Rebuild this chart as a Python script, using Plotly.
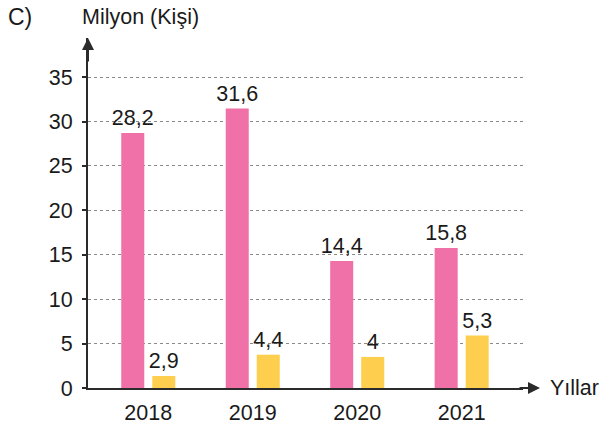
import plotly.graph_objects as go

years = ["2018", "2019", "2020", "2021"]
pink_values = [28.7, 31.45, 14.3, 15.75]
pink_labels = ["28,2", "31,6", "14,4", "15,8"]
yellow_values = [1.35, 3.75, 3.5, 5.9]
yellow_labels = ["2,9", "4,4", "4", "5,3"]
y_ticks = [0, 5, 10, 15, 20, 25, 30, 35]

FONT = "Liberation Sans Narrow, Liberation Sans, Arial, sans-serif"
FS = 21.5
TXT = "#1a1a1a"
AX = "#2b2b2b"

fig = go.Figure()
fig.add_bar(x=years, y=pink_values, text=pink_labels, textposition="outside",
            constraintext="none", cliponaxis=False,
            marker=dict(color="#F070A8", line=dict(width=0)),
            textfont=dict(family=FONT, size=FS, color=TXT), showlegend=False)
fig.add_bar(x=years, y=yellow_values, text=yellow_labels, textposition="outside",
            constraintext="none", cliponaxis=False,
            marker=dict(color="#FECF4E", line=dict(width=0)),
            textfont=dict(family=FONT, size=FS, color=TXT), showlegend=False)

l, r, t, b = 88, 77, 38, 40
pw, ph = 600 - l - r, 428 - t - b
fig.update_layout(
    width=600, height=428,
    margin=dict(l=l, r=r, t=t, b=b, pad=0, autoexpand=False),
    paper_bgcolor="white", plot_bgcolor="white",
    barmode="group", bargap=0.406, bargroupgap=0.258,
    font=dict(family=FONT, size=FS, color=TXT),
    xaxis=dict(type="category", range=[-0.577, 3.587], showgrid=False, automargin=False,
               showline=True, linecolor=AX, linewidth=2, ticks="",
               ticklabelstandoff=4, tickfont=dict(size=FS, color=TXT)),
    yaxis=dict(range=[0, 39.4], tickvals=y_ticks, ticktext=[str(v) for v in y_ticks],
               automargin=False,
               showgrid=True, gridcolor="#8a8a8a", gridwidth=1, griddash="3px,3px",
               showline=True, linecolor=AX, linewidth=2, zeroline=False,
               ticks="outside", ticklen=4, tickcolor=AX, tickwidth=1.5,
               ticklabelstandoff=5, tickfont=dict(size=FS, color=TXT)),
    annotations=[
        dict(xref="paper", yref="paper", x=0, y=1, ax=0, ay=25, showarrow=True,
             arrowhead=2, arrowsize=1.2, arrowwidth=2, arrowcolor=AX, text=""),
        dict(xref="paper", yref="paper", x=1 + 17 / pw, y=0, ax=-22, ay=0, showarrow=True,
             arrowhead=2, arrowsize=1.2, arrowwidth=2, arrowcolor=AX, text=""),
        dict(xref="paper", yref="paper", x=-82 / pw, y=1 + 21 / ph, xanchor="left",
             yanchor="middle", text="C)", showarrow=False, font=dict(size=23, color=TXT)),
        dict(xref="paper", yref="paper", x=-8 / pw, y=1 + 21 / ph, xanchor="left",
             yanchor="middle", text="Milyon (Kişi)", showarrow=False,
             font=dict(size=FS, color=TXT)),
        dict(xref="paper", yref="paper", x=1 + 25 / pw, y=0, xanchor="left",
             yanchor="middle", text="Yıllar", showarrow=False,
             font=dict(size=FS, color=TXT)),
    ],
)
fig.write_html("out.html", post_script="document.body.style.margin='0';",
               config={"displayModeBar": False})
